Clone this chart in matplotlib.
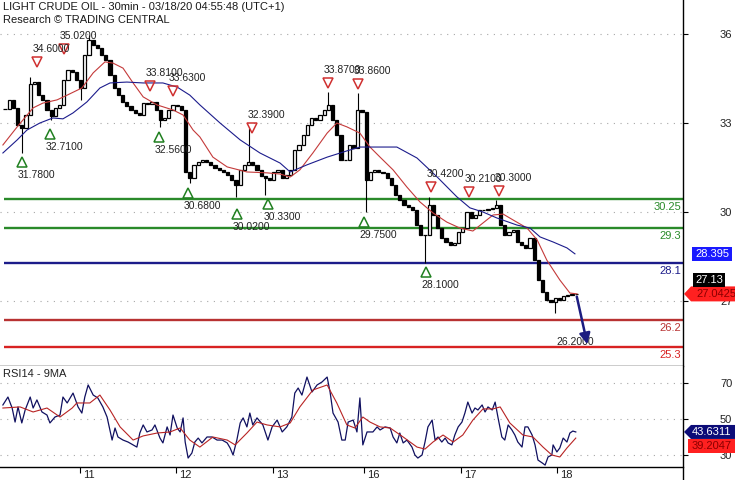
import numpy as np
import matplotlib
matplotlib.use('Agg')
import matplotlib.pyplot as plt
from matplotlib.lines import Line2D
from matplotlib.patches import Polygon

plt.rcParams['font.family'] = ['Liberation Sans', 'DejaVu Sans']

title = 'LIGHT CRUDE OIL - 30min - 03/18/20 04:55:48 (UTC+1)'
subtitle = 'Research \u00a9 TRADING CENTRAL'

# closes, one per bar
closes = [33.47, 33.78, 33.51, 32.93, 32.83, 33.27, 34.31, 34.38, 33.94, 33.78,
          33.44, 33.24, 33.51, 33.61, 34.45, 34.79, 34.72, 34.45, 34.18, 35.29,
          35.80, 35.63, 35.53, 35.29, 35.12, 34.62, 34.18, 33.94, 33.71, 33.57,
          33.44, 33.34, 33.27, 33.67, 33.64, 33.71, 33.44, 33.10, 33.17, 33.44,
          33.61, 33.57, 33.44, 31.35, 31.15, 31.59, 31.69, 31.75, 31.69, 31.59,
          31.48, 31.42, 31.35, 31.25, 31.08, 30.91, 31.42, 31.59, 31.69, 31.59,
          31.42, 31.21, 31.15, 31.08, 31.35, 31.42, 31.15, 31.25, 31.42, 32.09,
          32.26, 32.60, 32.93, 33.17, 33.10, 33.27, 33.44, 33.61, 33.10, 32.60,
          31.75, 31.75, 32.26, 32.16, 33.44, 33.37, 31.08, 31.35, 31.42, 31.35,
          31.32, 31.15, 30.91, 30.57, 30.41, 30.24, 30.17, 30.07, 29.56, 29.23,
          29.23, 30.24, 29.90, 29.46, 29.12, 28.99, 28.89, 28.96, 29.33, 29.46,
          30.00, 29.80, 29.90, 30.07, 30.07, 30.10, 30.14, 30.24, 29.56, 29.23,
          29.33, 29.39, 28.99, 28.89, 28.79, 29.12, 28.38, 27.71, 27.30, 27.04,
          26.97, 27.10, 27.04, 27.17, 27.20, 27.24, 27.24]
wick_hi = {6: 34.55, 20: 35.97, 58: 32.83, 77: 34.05, 84: 34.01, 101: 30.51, 117: 30.41}
wick_lo = {4: 31.99, 11: 33.10, 18: 33.78, 37: 32.87, 44: 30.97, 55: 30.51, 62: 30.57,
           86: 29.99, 100: 28.28, 131: 26.60}

# moving averages (bar index, price)
red_ma_x = [-0.5, 2.9, 6.7, 9.0, 12.4, 14.8, 18.3, 21.0, 23.8, 25.7, 28.1, 30.5, 32.9, 36.2,
            40.0, 42.4, 44.8, 46.4, 49.5, 52.9, 57.6, 62.4, 65.5, 67.9, 70.2, 73.3, 76.7,
            79.0, 81.4, 84.5, 86.9, 89.3, 92.4, 95.7, 98.8, 101.9, 105.2, 108.3, 111.4,
            113.8, 116.2, 118.6, 121.0, 124.3, 126.7, 129.0, 132.1, 134.5, 136.2]
red_ma = [32.26, 32.87, 33.51, 33.67, 33.78, 33.94, 34.18, 34.69, 35.06, 35.02, 34.85, 34.35,
          33.88, 33.61, 33.44, 33.27, 32.76, 32.53, 31.85, 31.52, 31.35, 31.32, 31.28, 31.18,
          31.42, 31.99, 32.66, 33.00, 32.87, 32.66, 32.19, 31.85, 31.42, 30.84, 30.34, 29.97,
          29.66, 29.46, 29.36, 29.63, 29.90, 29.93, 29.73, 29.46, 29.06, 28.38, 27.71, 27.27,
          27.24]
blue_ma_x = [-0.5, 2.9, 5.2, 8.3, 11.4, 13.8, 16.2, 19.5, 22.6, 25.0, 29.0, 32.9, 37.6, 41.0,
             44.0, 46.4, 51.2, 56.0, 60.7, 65.5, 67.9, 71.9, 76.7, 81.4, 84.5, 93.3, 98.1,
             102.9, 107.6, 110.7, 113.8, 117.1, 121.9, 125.0, 127.4, 130.5, 133.8, 135.7]
blue_ma = [31.99, 32.43, 32.76, 33.00, 33.17, 33.14, 33.34, 33.71, 34.18, 34.35, 34.38, 34.35,
           34.35, 34.21, 33.94, 33.61, 33.00, 32.43, 31.99, 31.65, 31.35, 31.59, 31.85, 32.06,
           32.19, 32.19, 31.82, 31.18, 30.51, 30.14, 30.00, 29.80, 29.56, 29.46, 29.16, 28.99,
           28.79, 28.59]

# RSI14 and its 9MA
rsi_x = [-0.5, 0.7, 1.7, 2.4, 3.1, 4.0, 4.8, 6.0, 6.7, 7.6, 8.8, 10.0, 10.7, 11.9, 13.1, 13.8,
         14.8, 16.2, 17.4, 18.3, 19.0, 19.8, 21.0, 22.1, 23.3, 24.3, 25.5, 26.2, 26.9, 28.1,
         29.3, 30.5, 31.4, 32.1, 32.9, 33.8, 35.0, 35.7, 36.9, 37.6, 38.6, 39.3, 40.0, 41.0,
         41.7, 42.4, 42.9, 43.6, 44.5, 45.2, 46.0, 46.9, 48.1, 49.3, 50.5, 51.7, 52.9, 53.6,
         54.3, 55.2, 56.0, 56.7, 57.6, 58.3, 59.0, 60.0, 61.4, 62.6, 63.6, 64.8, 66.0, 67.1,
         68.3, 69.0, 69.8, 70.7, 71.9, 73.1, 74.3, 75.5, 76.7, 77.4, 78.1, 79.3, 80.2, 81.0,
         81.7, 82.9, 83.8, 84.5, 85.2, 86.2, 87.6, 88.6, 89.3, 90.5, 91.7, 92.4, 93.3, 94.0,
         94.8, 95.7, 96.9, 97.6, 98.3, 99.3, 100.0, 100.7, 101.7, 102.4, 103.1, 104.0, 104.8,
         105.5, 106.4, 107.1, 107.9, 108.8, 109.5, 110.2, 111.2, 111.9, 112.6, 113.6, 114.3,
         115.0, 116.0, 116.7, 117.4, 118.3, 119.0, 119.8, 120.7, 121.4, 122.1, 123.1, 123.8,
         124.5, 125.5, 126.2, 126.9, 127.9, 128.6, 129.3, 130.2, 130.5, 131.4, 132.1, 132.9,
         133.8, 134.5, 135.2, 135.9]
rsi = [57.8, 62.2, 56.1, 48.3, 56.7, 47.8, 55.0, 62.2, 56.1, 60.6, 53.9, 52.2, 47.8, 51.1, 52.2,
       62.2, 58.9, 64.4, 56.7, 53.3, 62.2, 68.9, 63.3, 61.7, 56.7, 51.1, 38.3, 45.0, 40.0, 38.3,
       37.2, 35.6, 34.4, 42.2, 46.7, 42.8, 43.9, 46.7, 39.4, 36.7, 45.6, 41.1, 52.2, 45.0, 42.8,
       50.6, 37.2, 28.3, 31.1, 37.2, 39.4, 36.7, 40.0, 40.0, 38.3, 38.3, 36.7, 33.9, 30.0, 38.3,
       47.8, 50.6, 45.6, 53.3, 46.7, 50.6, 46.7, 38.3, 45.6, 49.4, 42.8, 45.6, 51.1, 64.4, 67.2,
       63.3, 73.3, 65.0, 68.9, 70.6, 73.3, 65.0, 53.3, 48.3, 38.3, 38.3, 48.3, 49.4, 42.8, 61.7,
       35.6, 42.8, 42.8, 45.6, 43.9, 45.6, 45.0, 40.0, 36.7, 42.2, 36.7, 38.3, 34.4, 30.0, 28.3,
       30.0, 37.2, 45.6, 49.4, 38.3, 40.0, 37.2, 39.4, 36.7, 35.6, 41.1, 45.6, 48.3, 53.3, 59.4,
       53.3, 56.1, 55.0, 57.8, 53.9, 56.7, 55.0, 59.4, 50.6, 40.0, 38.3, 46.7, 43.9, 41.1, 37.2,
       34.4, 45.6, 45.6, 41.1, 35.6, 27.2, 25.6, 24.4, 28.9, 30.0, 35.6, 31.7, 33.9, 39.4, 37.2,
       42.2, 43.3, 42.8]
rsi_ma_x = [-0.5, 3.6, 6.7, 10.0, 13.1, 16.0, 17.1, 20.2, 22.6, 25.0, 27.4, 30.5, 32.9, 36.2,
            39.3, 41.7, 44.0, 46.4, 49.5, 52.9, 54.8, 57.6, 60.0, 62.4, 65.5, 67.9, 70.2, 73.3,
            76.7, 79.0, 81.4, 83.3, 85.2, 86.9, 89.3, 91.7, 94.8, 98.1, 100.0, 101.9, 104.3,
            106.7, 109.0, 111.4, 113.8, 116.2, 117.9, 120.2, 123.3, 125.7, 128.1, 130.2, 132.1,
            133.8, 135.9]
rsi_ma = [56.1, 56.7, 53.9, 56.1, 51.1, 56.1, 58.9, 58.9, 63.3, 55.0, 45.6, 38.3, 40.6, 42.2,
          42.8, 45.0, 38.3, 34.4, 40.0, 38.3, 35.6, 42.2, 48.3, 46.7, 45.6, 47.8, 56.7, 66.1,
          68.9, 58.9, 46.7, 45.0, 51.1, 48.3, 45.6, 45.0, 40.0, 34.4, 33.3, 37.2, 41.1, 37.2,
          41.1, 49.4, 55.6, 55.6, 56.7, 47.8, 41.1, 40.0, 34.4, 30.0, 28.9, 33.9, 39.4]

# support / resistance levels
level_y = [30.44, 29.46, 28.28, 26.36, 25.45]
level_labels = ['30.25', '29.3', '28.1', '26.2', '25.3']
level_colors = ['#2a8a2a', '#2a8a2a', '#1c1c8a', '#b83232', '#d82222']

# swing high / low marks
hi_x = [7.6, 14.0, 34.5, 40.0, 58.8, 76.9, 84.0, 101.4, 110.5, 117.6]
hi_y = [35.06, 35.49, 34.25, 34.08, 32.83, 34.35, 34.31, 30.84, 30.67, 30.71]
hi_labels = ['34.6000', '35.0200', '33.8100', '33.6300', '32.3900', '33.8700', '33.8600',
             '30.4200', '30.2100', '30.3000']
lo_x = [4.0, 10.7, 36.7, 43.6, 55.2, 62.6, 85.5, 100.2]
lo_y = [31.69, 32.63, 32.53, 30.64, 29.93, 30.27, 29.66, 27.98]
lo_labels = ['31.7800', '32.7100', '32.5600', '30.6800', '30.0200', '30.3300', '29.7500',
             '28.1000']

target_x, target_y = 138.8, 25.45
target_label = '26.2000'

day_pos = [17.86, 40.71, 63.81, 85.48, 108.57, 131.43]
day_labels = ['11', '12', '13', '16', '17', '18']

fig = plt.figure(figsize=(7.35, 4.8), dpi=100)
W, H = 735.0, 480.0
ax = fig.add_axes([0, 1 - 366 / H, 683 / W, 366 / H])
rx = fig.add_axes([0, 1 - 467 / H, 683 / W, 101 / H])

xlim = (-1.19, 161.43)
ax.set_xlim(*xlim)
ax.set_ylim(24.81, 37.146)
rx.set_xlim(*xlim)
rx.set_ylim(23.33, 79.44)

dots = (0, (1, 5))
for t in [27, 30, 33, 36]:
    ax.axhline(t, color='#a8a8a8', lw=0.8, ls=dots, zorder=0)
for t in [30, 50, 70]:
    rx.axhline(t, color='#a8a8a8', lw=0.8, ls=dots, zorder=0)

# levels
for yv, lab, col in zip(level_y, level_labels, level_colors):
    ax.hlines(yv, -0.24, xlim[1], color=col, lw=1.7, zorder=1)
    ax.annotate(lab, (0.997, yv), xycoords=ax.get_yaxis_transform(), xytext=(0, -6),
                textcoords='offset points', ha='right', va='center', fontsize=8, color=col)

# candles
x = np.arange(len(closes))
c = np.array(closes)
o = np.r_[c[0], c[:-1]]
hi = np.maximum(o, c)
lo = np.minimum(o, c)
for k, v in wick_hi.items():
    hi[k] = v
for k, v in wick_lo.items():
    lo[k] = v
ax.vlines(x, lo, hi, color='black', lw=0.8, zorder=2)
up = c >= o
ax.bar(x[up], (c - o)[up], bottom=o[up], width=0.78, facecolor='white',
       edgecolor='black', lw=0.9, zorder=2)
ax.bar(x[~up], (c - o)[~up], bottom=o[~up], width=0.78, facecolor='black',
       edgecolor='black', lw=0.9, zorder=2)

ax.plot(red_ma_x, red_ma, color='#c43a3a', lw=0.8, zorder=3)
ax.plot(blue_ma_x, blue_ma, color='#1c1c8c', lw=0.8, zorder=3)

# swing marks
ax.plot(hi_x, hi_y, ls='none', marker='v', ms=7.5, mfc='none', mec='#d03030', mew=1.1, zorder=4)
ax.plot(lo_x, lo_y, ls='none', marker='^', ms=7.5, mfc='none', mec='#208020', mew=1.1, zorder=4)
for px, py, lab in zip(hi_x, hi_y, hi_labels):
    ax.annotate(lab, (px, py), xytext=(-3, 9.5), textcoords='offset points',
                ha='left', va='center', fontsize=7.5, color='#222222', zorder=5)
for px, py, lab in zip(lo_x, lo_y, lo_labels):
    ax.annotate(lab, (px, py), xytext=(-3, -9.5), textcoords='offset points',
                ha='left', va='center', fontsize=7.5, color='#222222', zorder=5)

# target arrow
ax.text(131.4, 25.62, target_label, ha='left', va='center', fontsize=7.5, color='#222222', zorder=5)
ax.annotate('', xy=(target_x, target_y), xytext=(x[-1], closes[-1]),
            arrowprops=dict(arrowstyle='-|>', color='#1c1c80', lw=1.8, mutation_scale=16),
            zorder=6)

# RSI
rx.plot(rsi_x, rsi, color='#101060', lw=0.9, zorder=3)
rx.plot(rsi_ma_x, rsi_ma, color='#b82424', lw=0.8, zorder=3)

for a in (ax, rx):
    a.spines['left'].set_visible(False)
    a.spines['top'].set_visible(False)
    a.spines['right'].set_visible(False)
    a.spines['bottom'].set_linewidth(1.0)
    a.yaxis.tick_right()
    a.tick_params(axis='y', direction='out', length=3.6, width=0.8, pad=23,
                  labelsize=8, labelcolor='#222222')
ax.set_yticks([27, 30, 33, 36])
rx.set_yticks([30, 50, 70])
ax.set_xticks([])
rx.set_xticks(day_pos)
rx.tick_params(axis='x', direction='out', length=4, width=0.8, labelbottom=False)
for pos, lab in zip(day_pos, day_labels):
    rx.annotate(lab, (pos, 0), xycoords=rx.get_xaxis_transform(), xytext=(2.2, -6),
                textcoords='offset points', ha='left', va='center', fontsize=8, color='#222222')
rx.text(0.004, 0.92, 'RSI14 - 9MA', transform=rx.transAxes, ha='left', va='center',
        fontsize=8, color='#222222')

fig.add_artist(Line2D([683 / W, 683 / W], [0, 1], transform=fig.transFigure,
                      color='black', lw=1.0))

# overlay in pixel units for the price tags
ov = fig.add_axes([0, 0, 1, 1], zorder=10)
ov.set_xlim(0, W)
ov.set_ylim(H, 0)
ov.axis('off')
ov.patch.set_alpha(0)


def ypx(a, v):
    return H - a.transData.transform((0, v))[1]


ov.text(3, 7, title, ha='left', va='center', fontsize=8, color='#1a1a1a')
ov.text(3, 20, subtitle, ha='left', va='center', fontsize=8, color='#1a1a1a')

yb = ypx(ax, blue_ma[-1])
ov.add_patch(plt.Rectangle((692, yb - 7), 40, 14, color='#1a1aff', lw=0))
ov.text(712, yb, '28.395', ha='center', va='center', fontsize=8, color='white')

yr = ypx(ax, red_ma[-1])
ov.add_patch(Polygon([(684, yr), (691, yr - 7.5), (735, yr - 7.5), (735, yr + 7.5), (691, yr + 7.5)],
                     closed=True, color='#ff2020', lw=0))
ov.text(716, yr, '27.0425', ha='center', va='center', fontsize=8, color='#8a0000')
ov.add_patch(plt.Rectangle((693, yr - 21), 32, 14, color='black', lw=0))
ov.text(709, yr - 14, '27.13', ha='center', va='center', fontsize=8, color='white')

yn = ypx(rx, rsi[-1])
ov.add_patch(Polygon([(684, yn), (691, yn - 7), (735, yn - 7), (735, yn + 7), (691, yn + 7)],
                     closed=True, color='#0c0c78', lw=0))
ov.text(712, yn, '43.6311', ha='center', va='center', fontsize=8, color='white')
ov.add_patch(plt.Rectangle((688, yn + 7), 47, 14, color='#ff2020', lw=0))
ov.text(712, yn + 14, '39.2047', ha='center', va='center', fontsize=8, color='#8a0000')

fig.savefig('out.png', dpi=100)
